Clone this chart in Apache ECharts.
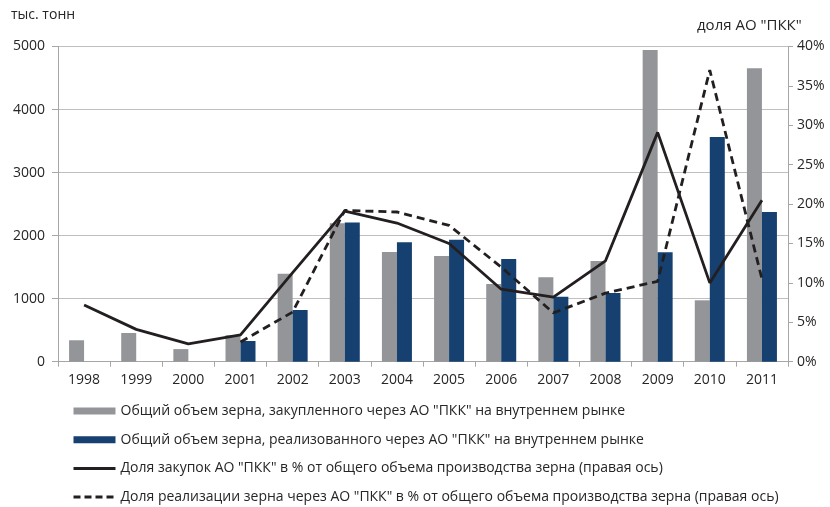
<!DOCTYPE html>
<html>
<head>
<meta charset="utf-8">
<script src="https://cdn.jsdelivr.net/npm/echarts@6/dist/echarts.min.js"></script>
<style>html,body{margin:0;padding:0;background:#fff}#c{width:830px;height:507px}</style>
</head>
<body>
<div id="c"></div>
<script>
var years = ['1998','1999','2000','2001','2002','2003','2004','2005','2006','2007','2008','2009','2010','2011'];
var purchased = [340, 455, 200, 420, 1396, 2195, 1740, 1677, 1232, 1339, 1597, 4944, 974, 4654];
var sold = [null, null, null, 328, 820, 2210, 1894, 1936, 1629, 1031, 1090, 1735, 3564, 2375];
var purchaseShare = [7.2, 4.1, 2.25, 3.4, 11.3, 19.1, 17.6, 15.0, 9.2, 8.2, 12.8, 29.1, 10.0, 20.5];
var salesShare = [null, null, null, 2.5, 6.3, 19.2, 19.0, 17.3, 12.0, 6.2, 8.7, 10.2, 37.0, 10.5];
var names = [
  'Общий объем зерна, закупленного через АО "ПКК" на внутреннем рынке',
  'Общий объем зерна, реализованного через АО "ПКК" на внутреннем рынке',
  'Доля закупок АО "ПКК" в % от общего объема производства зерна (правая ось)',
  'Доля реализации зерна через АО "ПКК" в % от общего объема производства зерна (правая ось)'
];
var FONT = 'Open Sans';
var chart = echarts.init(document.getElementById('c'), null, {renderer: 'canvas'});
chart.setOption({
  animation: false,
  backgroundColor: '#fff',
  textStyle: {fontFamily: FONT},
  graphic: [
    {type: 'text', left: 11, top: 8, style: {text: 'тыс. тонн', font: '14px "Open Sans"', fill: '#262626'}},
    {type: 'text', left: 697, top: 18, style: {text: 'доля АО "ПКК"', font: '15px "Open Sans"', fill: '#262626'}}
  ],
  grid: {left: 58, right: 42, top: 46.5, bottom: 145.3, containLabel: false},
  legend: {
    orient: 'vertical', left: 72, top: 403, padding: 0, height: 104,
    itemGap: 12.7, itemWidth: 42, itemHeight: 7,
    textStyle: {fontFamily: FONT, fontSize: 14, lineHeight: 16, color: '#262626'},
    data: [
      {name: names[0], icon: 'rect'},
      {name: names[1], icon: 'rect'},
      {name: names[2], itemStyle: {opacity: 0}, lineStyle: {width: 3}},
      {name: names[3], itemStyle: {opacity: 0}, lineStyle: {width: 3, type: [7, 4]}}
    ]
  },
  xAxis: {
    type: 'category', data: years,
    axisLine: {lineStyle: {color: '#a6a6a6', width: 1}},
    axisTick: {show: true, length: 5, lineStyle: {color: '#a6a6a6'}},
    axisLabel: {fontFamily: FONT, fontSize: 14, color: '#262626', margin: 11}
  },
  yAxis: [
    {
      type: 'value', min: 0, max: 5000, interval: 1000,
      axisLine: {show: true, lineStyle: {color: '#a6a6a6'}},
      axisTick: {show: true, length: 6, lineStyle: {color: '#a6a6a6'}},
      splitLine: {lineStyle: {color: '#bfbfbf'}},
      axisLabel: {fontFamily: FONT, fontSize: 14, color: '#262626', margin: 13,
        formatter: function (v) { return String(v); }}
    },
    {
      type: 'value', min: 0, max: 40, interval: 5, position: 'right',
      axisLine: {show: true, lineStyle: {color: '#a6a6a6'}},
      axisTick: {show: true, length: 5, lineStyle: {color: '#a6a6a6'}},
      splitLine: {show: false},
      axisLabel: {fontFamily: FONT, fontSize: 14, color: '#262626', margin: 9, formatter: '{value}%'}
    }
  ],
  series: [
    {name: names[0], type: 'bar', data: purchased, barWidth: 15, barGap: '0%', itemStyle: {color: '#939598'}},
    {name: names[1], type: 'bar', data: sold, barWidth: 15, barGap: '0%', itemStyle: {color: '#15406f'}},
    {name: names[2], type: 'line', yAxisIndex: 1, data: purchaseShare, symbol: 'none',
      lineStyle: {color: '#231f20', width: 2.8}, itemStyle: {color: '#231f20'}},
    {name: names[3], type: 'line', yAxisIndex: 1, data: salesShare, symbol: 'none',
      lineStyle: {color: '#231f20', width: 2.8, type: [8, 5]}, itemStyle: {color: '#231f20'}}
  ]
});
</script>
</body>
</html>
